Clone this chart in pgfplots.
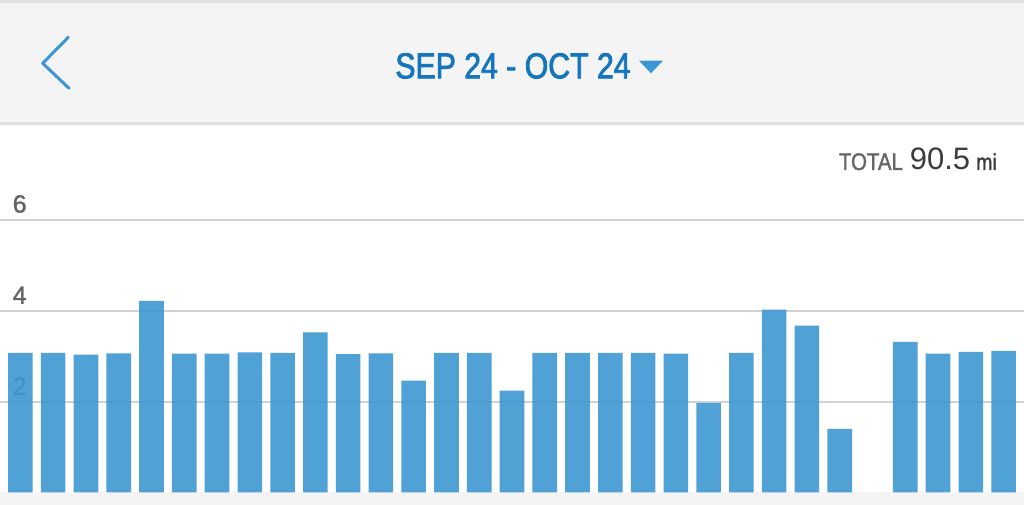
\documentclass[border=0pt]{standalone}
\usepackage{pgfplots}
\pgfplotsset{compat=1.18}
\usepackage{fontspec}
\setmainfont{Liberation Sans}
\newfontfamily\condfont[FakeStretch=0.84,FakeBold=2.2]{Liberation Sans}
\newfontfamily\condfontb[FakeStretch=0.85,FakeBold=1.6]{Liberation Sans}
\newfontfamily\tickfont[FakeBold=1.2]{Liberation Sans}
\definecolor{hdrbg}{HTML}{F4F4F4}
\definecolor{hdrline}{HTML}{E0E0E0}
\definecolor{titleblue}{HTML}{1676BD}
\definecolor{arrowblue}{HTML}{3B96D8}
\definecolor{barblue}{HTML}{3E97D1}
\definecolor{gridgray}{HTML}{D2D2D2}
\definecolor{labgray}{HTML}{636363}
\definecolor{totgray}{HTML}{666666}
\definecolor{numgray}{HTML}{3C3C3C}
\begin{document}
\begin{tikzpicture}
\useasboundingbox (0pt,0pt) rectangle (1024pt,505pt);
\fill[white] (0pt,0pt) rectangle (1024pt,505pt);
% header
\fill[hdrbg] (0pt,383pt) rectangle (1024pt,505pt);
\fill[hdrline] (0pt,502pt) rectangle (1024pt,505pt);
\fill[hdrline] (0pt,379.7pt) rectangle (1024pt,383pt);
\fill[hdrbg!60!white] (0pt,378pt) rectangle (1024pt,379.7pt);
% bottom strip
\fill[hdrbg] (0pt,0pt) rectangle (1024pt,12.5pt);
% back arrow
\draw[arrowblue, line width=3pt, line cap=round, line join=round] (68.3pt,467.7pt) -- (42.7pt,441.7pt) -- (69pt,416.7pt);
% title
\node[anchor=base, inner sep=0pt, text=titleblue] at (513pt,426.7pt) {\fontsize{36}{40}\selectfont\condfont SEP 24 - OCT 24};
\fill[arrowblue] (639pt,444.3pt) -- (663pt,444.3pt) -- (651pt,431.7pt) -- cycle;
% total
\node[anchor=base east, inner sep=0pt] at (997pt,335pt) {{\fontsize{24}{28}\selectfont\condfontb\color{totgray}TOTAL}\hspace{7pt}{\fontsize{31}{34}\selectfont\color{numgray}90.5}\hspace{6pt}{\fontsize{23}{26}\selectfont\condfontb\color{numgray}mi}};
\begin{axis}[
  at={(0pt,12.5pt)}, anchor=south west,
  scale only axis, width=1024pt, height=318.5pt,
  xmin=-0.623, xmax=30.623, ymin=0, ymax=7,
  axis line style={draw=none},
  xtick=\empty,
  ytick={2,4,6},
  major tick length=0pt,
  ymajorgrids,
  grid style={gridgray, line width=2pt},
  /pgf/number format/assume math mode=true,
  yticklabel style={anchor=south west, inner sep=0pt, xshift=12.5pt, yshift=6.5pt, text=labgray, font=\fontsize{25}{28}\selectfont\tickfont},
  clip=false,
]
\addplot[ybar, bar width=24.6pt, fill=barblue, draw=none, fill opacity=0.9] coordinates {
(0,3.07) (1,3.07) (2,3.03) (3,3.06) (4,4.21) (5,3.05) (6,3.05) (7,3.08) (8,3.07) (9,3.52)
(10,3.04) (11,3.06) (12,2.46) (13,3.07) (14,3.07) (15,2.24) (16,3.07) (17,3.07) (18,3.07) (19,3.07)
(20,3.05) (21,1.97) (22,3.07) (23,4.02) (24,3.67) (25,1.40) (27,3.31) (28,3.05) (29,3.09) (30,3.11)
};
\end{axis}
\end{tikzpicture}
\end{document}
